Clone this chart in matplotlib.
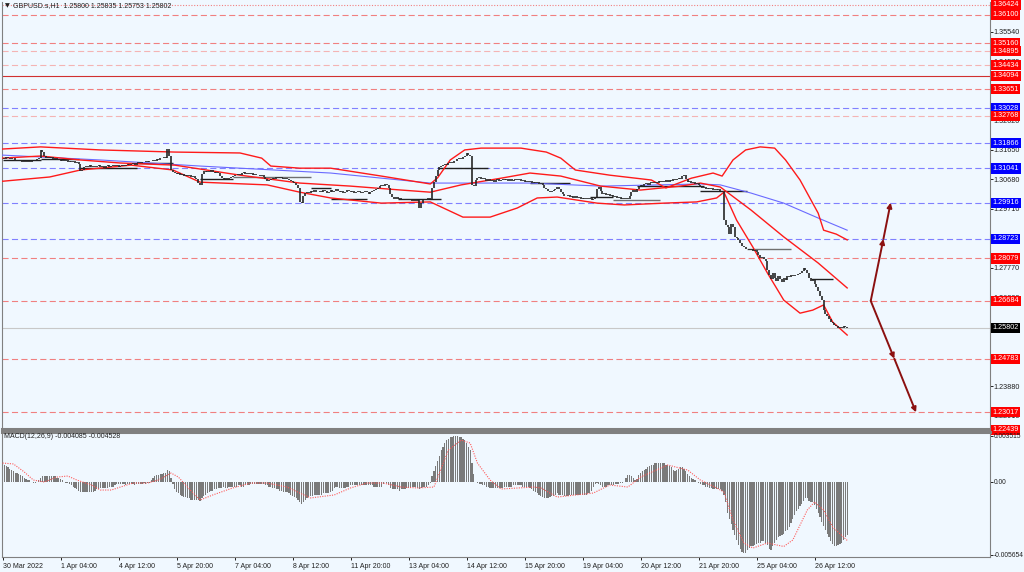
import numpy as np
import matplotlib.pyplot as plt

plt.rcParams['font.family'] = ['Liberation Sans', 'DejaVu Sans']

BG = '#f0f8ff'
W, H = 1024, 572

# --- hourly closes, GBPUSD H1 ---
close = [
    1.3140, 1.3136, 1.3142, 1.3138, 1.3135, 1.3140, 1.3137, 1.3130, 1.3133, 1.3128, 1.3131, 1.3126, 1.3129, 1.3124, 1.3128, 1.3125,
    1.3130, 1.3127, 1.3132, 1.3135, 1.3140, 1.3165, 1.3158, 1.3145, 1.3140, 1.3143, 1.3137, 1.3141, 1.3135, 1.3138, 1.3132, 1.3136,
    1.3130, 1.3133, 1.3127, 1.3131, 1.3125, 1.3129, 1.3124, 1.3128, 1.3122, 1.3126, 1.3120, 1.3095, 1.3098, 1.3108, 1.3112, 1.3109,
    1.3114, 1.3110, 1.3113, 1.3108, 1.3112, 1.3115, 1.3110, 1.3113, 1.3107, 1.3111, 1.3114, 1.3109, 1.3113, 1.3116, 1.3111, 1.3114,
    1.3110, 1.3113, 1.3117, 1.3112, 1.3115, 1.3119, 1.3114, 1.3118, 1.3121, 1.3117, 1.3122, 1.3125, 1.3121, 1.3126, 1.3124, 1.3128,
    1.3125, 1.3130, 1.3127, 1.3133, 1.3130, 1.3136, 1.3133, 1.3140, 1.3137, 1.3143, 1.3140, 1.3168, 1.3145, 1.3100, 1.3094, 1.3090,
    1.3086, 1.3090, 1.3084, 1.3087, 1.3080, 1.3083, 1.3078, 1.3081, 1.3075, 1.3078, 1.3072, 1.3070, 1.3055, 1.3050, 1.3085, 1.3095,
    1.3092, 1.3097, 1.3093, 1.3098, 1.3094, 1.3090, 1.3093, 1.3088, 1.3078, 1.3074, 1.3070, 1.3073, 1.3068, 1.3072, 1.3075, 1.3080,
    1.3084, 1.3081, 1.3086, 1.3083, 1.3088, 1.3091, 1.3087, 1.3090, 1.3085, 1.3088, 1.3083, 1.3086, 1.3081, 1.3084, 1.3079, 1.3082,
    1.3076, 1.3068, 1.3064, 1.3067, 1.3070, 1.3074, 1.3071, 1.3075, 1.3072, 1.3076, 1.3073, 1.3070, 1.3074, 1.3071, 1.3066, 1.3062,
    1.3058, 1.3055, 1.3050, 1.3040, 1.2995, 1.2990, 1.3015, 1.3022, 1.3028, 1.3024, 1.3030, 1.3026, 1.3032, 1.3028, 1.3025, 1.3030,
    1.3027, 1.3033, 1.3029, 1.3024, 1.3028, 1.3032, 1.3027, 1.3031, 1.3035, 1.3030, 1.3026, 1.3030, 1.3024, 1.3028, 1.3033, 1.3029,
    1.3025, 1.3029, 1.3023, 1.3027, 1.3031, 1.3026, 1.3022, 1.3026, 1.3030, 1.3025, 1.3021, 1.3025, 1.3029, 1.3033, 1.3036, 1.3040,
    1.3045, 1.3050, 1.3046, 1.3052, 1.3048, 1.3040, 1.3020, 1.3010, 1.3005, 1.3009, 1.3003, 1.3007, 1.3001, 1.3005, 1.2999, 1.3004,
    1.3000, 1.3004, 1.2998, 1.3002, 1.2997, 1.3001, 1.2975, 1.2990, 1.3000, 1.3004, 1.2999, 1.3006, 1.3002, 1.3040, 1.3060, 1.3080,
    1.3100, 1.3108, 1.3112, 1.3116, 1.3120, 1.3117, 1.3123, 1.3126, 1.3122, 1.3130, 1.3127, 1.3135, 1.3140, 1.3136, 1.3143, 1.3146,
    1.3155, 1.3148, 1.3144, 1.3050, 1.3045, 1.3065, 1.3072, 1.3076, 1.3070, 1.3074, 1.3068, 1.3064, 1.3068, 1.3062, 1.3066, 1.3061,
    1.3065, 1.3068, 1.3063, 1.3067, 1.3070, 1.3065, 1.3069, 1.3064, 1.3068, 1.3062, 1.3066, 1.3070, 1.3065, 1.3069, 1.3063, 1.3066,
    1.3061, 1.3064, 1.3059, 1.3062, 1.3057, 1.3060, 1.3055, 1.3058, 1.3052, 1.3055, 1.3048, 1.3040, 1.3035, 1.3030, 1.3026, 1.3030,
    1.3034, 1.3038, 1.3043, 1.3036, 1.3028, 1.3020, 1.3015, 1.3012, 1.3016, 1.3010, 1.3013, 1.3008, 1.3012, 1.3006, 1.3010, 1.3004,
    1.3008, 1.3003, 1.3007, 1.3002, 1.3006, 1.3001, 1.3005, 1.3010, 1.3035, 1.3042, 1.3030, 1.3020, 1.3024, 1.3016, 1.3020, 1.3013,
    1.3017, 1.3010, 1.3014, 1.3006, 1.3010, 1.3004, 1.3008, 1.3003, 1.3007, 1.3002, 1.3012, 1.3025, 1.3032, 1.3028, 1.3035, 1.3045,
    1.3050, 1.3046, 1.3052, 1.3055, 1.3051, 1.3056, 1.3059, 1.3055, 1.3060, 1.3057, 1.3062, 1.3058, 1.3063, 1.3060, 1.3065, 1.3061,
    1.3066, 1.3063, 1.3068, 1.3065, 1.3070, 1.3074, 1.3068, 1.3078, 1.3082, 1.3070, 1.3058, 1.3062, 1.3056, 1.3060, 1.3054, 1.3057,
    1.3050, 1.3045, 1.3040, 1.3043, 1.3038, 1.3041, 1.3036, 1.3039, 1.3034, 1.3037, 1.3032, 1.3035, 1.3030, 1.3025,
    1.2934, 1.2918, 1.2910, 1.2890, 1.2920, 1.2910, 1.2880, 1.2875, 1.2868, 1.2860, 1.2850, 1.2845, 1.2840, 1.2838, 1.2835, 1.2838,
    1.2832, 1.2835, 1.2830, 1.2818, 1.2810, 1.2812, 1.2805, 1.2800, 1.2770, 1.2755, 1.2740, 1.2760, 1.2745, 1.2735, 1.2750, 1.2740,
    1.2732, 1.2745, 1.2738, 1.2750, 1.2748, 1.2752, 1.2750, 1.2755, 1.2752, 1.2758, 1.2760, 1.2768, 1.2775, 1.2770, 1.2760, 1.2745,
    1.2735, 1.2738, 1.2725, 1.2715, 1.2700, 1.2685, 1.2670, 1.2640, 1.2625, 1.2618, 1.2610, 1.2600, 1.2595, 1.2588, 1.2585, 1.2578,
    1.2582, 1.2580, 1.2585, 1.2583, 1.2580,
]

# MACD(12,26,9) main values, one per bar
macd_hist = [
    0.0014, 0.0013, 0.0012, 0.0011, 0.0010, 0.0009, 0.0008, 0.0007, 0.0007, 0.0006, 0.0005, 0.0004, 0.0003, 0.0002, 0.0001, 0.0001,
    0.0000, -0.0001, -0.0001, 0.0000, 0.0001, 0.0003, 0.0004, 0.0004, 0.0004, 0.0004, 0.0004, 0.0004, 0.0004, 0.0004, 0.0003, 0.0003,
    0.0002, 0.0001, 0.0000, -0.0001, -0.0001, -0.0002, -0.0003, -0.0004, -0.0005, -0.0006, -0.0007, -0.0008, -0.0008, -0.0008, -0.0008, -0.0008,
    -0.0008, -0.0008, -0.0008, -0.0007, -0.0006, -0.0006, -0.0005, -0.0005, -0.0005, -0.0005, -0.0005, -0.0004, -0.0004, -0.0004, -0.0003, -0.0002,
    -0.0002, -0.0002, -0.0002, -0.0002, -0.0003, -0.0002, -0.0002, -0.0002, -0.0002, -0.0003, -0.0002, -0.0002, -0.0002, -0.0002, -0.0001, -0.0002,
    -0.0001, -0.0001, 0.0001, 0.0003, 0.0004, 0.0005, 0.0005, 0.0006, 0.0006, 0.0007, 0.0007, 0.0009, 0.0008, 0.0003, -0.0002, -0.0006,
    -0.0008, -0.0009, -0.0010, -0.0011, -0.0012, -0.0012, -0.0013, -0.0013, -0.0014, -0.0014, -0.0014, -0.0014, -0.0014, -0.0015, -0.0013, -0.0011,
    -0.0010, -0.0009, -0.0008, -0.0007, -0.0007, -0.0006, -0.0006, -0.0005, -0.0005, -0.0005, -0.0004, -0.0005, -0.0005, -0.0004, -0.0004, -0.0004,
    -0.0004, -0.0004, -0.0003, -0.0003, -0.0004, -0.0004, -0.0003, -0.0003, -0.0003, -0.0002, -0.0002, -0.0002, -0.0002, -0.0002, -0.0002, -0.0002,
    -0.0002, -0.0003, -0.0003, -0.0004, -0.0004, -0.0005, -0.0005, -0.0006, -0.0006, -0.0007, -0.0007, -0.0008, -0.0008, -0.0008, -0.0009, -0.0010,
    -0.0011, -0.0012, -0.0013, -0.0014, -0.0016, -0.0017, -0.0016, -0.0014, -0.0013, -0.0012, -0.0011, -0.0011, -0.0010, -0.0010, -0.0010, -0.0010,
    -0.0010, -0.0009, -0.0009, -0.0009, -0.0009, -0.0008, -0.0007, -0.0005, -0.0004, -0.0004, -0.0005, -0.0005, -0.0005, -0.0005, -0.0004, -0.0004,
    -0.0003, -0.0003, -0.0003, -0.0003, -0.0003, -0.0003, -0.0003, -0.0003, -0.0003, -0.0003, -0.0003, -0.0003, -0.0003, -0.0004, -0.0004, -0.0004,
    -0.0004, -0.0004, -0.0002, 0.0000, -0.0001, -0.0003, -0.0005, -0.0006, -0.0006, -0.0006, -0.0006, -0.0007, -0.0006, -0.0006, -0.0006, -0.0005,
    -0.0005, -0.0005, -0.0004, -0.0004, -0.0004, -0.0005, -0.0006, -0.0005, -0.0004, -0.0004, -0.0004, -0.0003, -0.0001, 0.0004, 0.0008, 0.0012,
    0.0016, 0.0020, 0.0024, 0.0027, 0.0030, 0.0032, 0.0033, 0.0034, 0.0034, 0.0035, 0.0035, 0.0035, 0.0034, 0.0034, 0.0033, 0.0032,
    0.0030, 0.0027, 0.0024, 0.0014, 0.0006, 0.0000, -0.0001, -0.0002, -0.0002, -0.0003, -0.0003, -0.0004, -0.0004, -0.0005, -0.0005, -0.0005,
    -0.0005, -0.0005, -0.0005, -0.0005, -0.0005, -0.0004, -0.0004, -0.0004, -0.0004, -0.0004, -0.0003, -0.0003, -0.0003, -0.0003, -0.0003, -0.0004,
    -0.0004, -0.0004, -0.0004, -0.0005, -0.0006, -0.0007, -0.0008, -0.0009, -0.0010, -0.0011, -0.0012, -0.0013, -0.0013, -0.0013, -0.0012, -0.0011,
    -0.0011, -0.0010, -0.0009, -0.0010, -0.0010, -0.0010, -0.0011, -0.0011, -0.0011, -0.0010, -0.0010, -0.0010, -0.0010, -0.0010, -0.0010, -0.0010,
    -0.0010, -0.0010, -0.0010, -0.0009, -0.0009, -0.0007, -0.0004, -0.0002, -0.0001, -0.0002, -0.0003, -0.0004, -0.0004, -0.0004, -0.0003, -0.0003,
    -0.0003, -0.0003, -0.0002, -0.0002, -0.0002, -0.0001, -0.0001, 0.0000, 0.0003, 0.0005, 0.0005, 0.0004, 0.0003, 0.0001, 0.0002, 0.0005,
    0.0007, 0.0008, 0.0009, 0.0010, 0.0011, 0.0012, 0.0013, 0.0013, 0.0014, 0.0014, 0.0014, 0.0014, 0.0014, 0.0014, 0.0013, 0.0013,
    0.0012, 0.0011, 0.0009, 0.0008, 0.0009, 0.0010, 0.0011, 0.0011, 0.0010, 0.0008, 0.0006, 0.0004, 0.0003, 0.0002, 0.0001, 0.0000,
    -0.0001, -0.0002, -0.0003, -0.0003, -0.0004, -0.0004, -0.0005, -0.0005, -0.0006, -0.0006, -0.0006, -0.0006, -0.0006, -0.0007, -0.0010, -0.0016,
    -0.0024, -0.0029, -0.0033, -0.0037, -0.0041, -0.0045, -0.0049, -0.0052, -0.0054, -0.0055, -0.0055, -0.0053, -0.0051, -0.0050, -0.0050, -0.0049,
    -0.0048, -0.0047, -0.0047, -0.0046, -0.0046, -0.0047, -0.0049, -0.0052, -0.0053, -0.0050, -0.0047, -0.0045, -0.0043, -0.0042, -0.0041, -0.0040,
    -0.0038, -0.0037, -0.0035, -0.0032, -0.0029, -0.0026, -0.0023, -0.0021, -0.0019, -0.0017, -0.0015, -0.0013, -0.0013, -0.0015, -0.0016, -0.0016,
    -0.0018, -0.0021, -0.0024, -0.0027, -0.0031, -0.0034, -0.0037, -0.0040, -0.0043, -0.0046, -0.0048, -0.0050, -0.0050, -0.0049, -0.0048, -0.0047,
    -0.0045, -0.0043, -0.0041,
]

# MACD signal line, read at turning points
signal_idx = [0, 6, 12, 17, 23, 30, 36, 41, 49, 54, 60, 65, 72, 80, 86, 93, 97, 102, 109, 116, 127, 137, 146, 157,
              164, 170, 183, 192, 201, 210, 220, 229, 238, 246, 253, 258, 262, 269, 275, 293, 297, 306, 326, 335,
              345, 352, 367, 378, 385, 394, 398, 403, 409, 414, 422, 431, 436, 444, 448, 453, 458, 466]
signal_val = [0.00143, 0.00136, 0.00074, 0.00012, -0.00003, 0.00035, 0.00043, 0.00012, -0.00026, -0.00065, -0.00065,
              -0.00042, -0.00011, -0.00011, 0.00012, 0.00066, 0.00035, -0.00042, -0.00142, -0.00103, -0.00049, -0.00011,
              -0.00011, -0.00042, -0.00088, -0.00126, -0.00103, -0.00049, -0.00011, -0.00011, -0.00042, -0.00049, -0.00042,
              0.00243, 0.00320, 0.00297, 0.00143, 0.00012, -0.00057, -0.00042, -0.00049, -0.00119, -0.00088, -0.00026,
              -0.00042, 0.00035, 0.00128, 0.00089, 0.00012, -0.00049, -0.00080, -0.00296, -0.00473, -0.00512, -0.00473,
              -0.00500, -0.00450, -0.00219, -0.00157, -0.00219, -0.00350, -0.00453]

# red envelope / bands and blue moving average
upper_idx = [0, 21, 54, 95, 131, 143, 148, 164, 181, 209, 236, 240, 247, 255, 264, 286, 300, 308, 316, 335, 358, 366,
             380, 392, 397, 403, 410, 418, 426, 432, 440, 450, 453, 460, 466]
upper_val = [1.3168, 1.3175, 1.3165, 1.3158, 1.3155, 1.3138, 1.3112, 1.3105, 1.3105, 1.3079, 1.3053, 1.3073, 1.3132,
             1.3165, 1.3171, 1.3171, 1.3158, 1.3138, 1.3099, 1.3082, 1.3066, 1.3040, 1.3072, 1.3089, 1.3079, 1.3132,
             1.3165, 1.3175, 1.3171, 1.3132, 1.3066, 1.2957, 1.2901, 1.2888, 1.2869]
middle_idx = [0, 21, 43, 65, 95, 131, 164, 192, 220, 236, 253, 275, 291, 308, 330, 352, 374, 385, 396, 413, 431, 450, 466]
middle_val = [1.3138, 1.3145, 1.3132, 1.3122, 1.3115, 1.3082, 1.3056, 1.3046, 1.3033, 1.3026, 1.3050, 1.3072, 1.3089,
              1.3079, 1.3046, 1.3033, 1.3046, 1.3056, 1.3043, 1.2967, 1.2879, 1.2793, 1.2711]
lower_idx = [0, 26, 43, 71, 94, 109, 146, 164, 181, 209, 236, 254, 269, 284, 295, 306, 328, 343, 365, 383, 394, 398,
             405, 414, 422, 431, 440, 447, 453, 458, 466]
lower_val = [1.3062, 1.3076, 1.3099, 1.3115, 1.3099, 1.3059, 1.3050, 1.3026, 1.3007, 1.2990, 1.2994, 1.2944, 1.2944,
             1.2974, 1.3007, 1.3010, 1.2990, 1.2984, 1.2990, 1.2994, 1.3007, 1.3026, 1.2934, 1.2845, 1.2760, 1.2671,
             1.2628, 1.2638, 1.2655, 1.2599, 1.2556]
ma_idx = [0, 54, 109, 181, 236, 291, 330, 385, 396, 413, 431, 450, 466]
ma_val = [1.3148, 1.3132, 1.3112, 1.3089, 1.3056, 1.3056, 1.3046, 1.3053, 1.3050, 1.3023, 1.2990, 1.2941, 1.2901]

# short horizontal segments (start bar, end bar, price, shade)
seg_start = [0, 21, 43, 74, 109, 127, 170, 181, 218, 240, 291, 324, 337, 350, 385, 411, 446]
seg_end = [21, 42, 74, 94, 127, 170, 181, 201, 242, 268, 313, 337, 363, 387, 411, 435, 458]
seg_level = [1.3132, 1.3135, 1.3105, 1.3122, 1.3069, 1.3076, 1.3040, 1.3003, 1.3003, 1.3105, 1.3056, 1.3010, 1.3000,
             1.3046, 1.3030, 1.2839, 1.2740]
seg_shade = ['k', 'k', 'k', 'k', 'k', 'g', 'k', 'k', 'k', 'k', 'k', 'k', 'g', 'k', 'k', 'g', 'k']

# horizontal levels with their price tags
level_val = [1.36424, 1.36100, 1.35160, 1.34895, 1.34434, 1.34094, 1.33651, 1.33028, 1.32768, 1.31866, 1.31041,
             1.29916, 1.28723, 1.28079, 1.26684, 1.25802, 1.24783, 1.23017, 1.22439]
level_kind = ['dot', 'red', 'red', 'pale', 'pale', 'solid', 'red', 'blue', 'pale', 'blue', 'blue',
              'blue', 'blue', 'red', 'red', 'price', 'red', 'red', 'red']

# projection arrows
up_idx = [479, 486, 490]
up_val = [1.26684, 1.28723, 1.29916]
down_idx = [479, 492, 504]
down_val = [1.26684, 1.24783, 1.23017]

price_ticks = [1.36510, 1.35540, 1.34570, 1.33600, 1.32620, 1.31650, 1.30680, 1.29710, 1.28740, 1.27770, 1.26800,
               1.25830, 1.24850, 1.23880, 1.22910]
macd_ticks = [0.003515, 0.0, -0.005654]
macd_tick_labels = ['0.003515', '0.00', '-0.005654']
date_idx = [0, 32, 64, 96, 128, 160, 192, 224, 256, 288, 320, 352, 384, 416, 448]
date_labels = ['30 Mar 2022', '1 Apr 04:00', '4 Apr 12:00', '5 Apr 20:00', '7 Apr 04:00', '8 Apr 12:00',
               '11 Apr 20:00', '13 Apr 04:00', '14 Apr 12:00', '15 Apr 20:00', '19 Apr 04:00', '20 Apr 12:00',
               '21 Apr 20:00', '25 Apr 04:00', '26 Apr 12:00']

title = 'GBPUSD.s,H1  1.25800 1.25835 1.25753 1.25802'
macd_title = 'MACD(12,26,9) -0.004085 -0.004528'

FS = 5.2      # scale numbers
FS_TXT = 5.0  # captions and dates


def px_box(x0, y0, x1, y1):
    return [x0 / W, 1 - y1 / H, (x1 - x0) / W, (y1 - y0) / H]


fig = plt.figure(figsize=(W / 100, H / 100), dpi=100, facecolor=BG)
ax = fig.add_axes(px_box(2, 2, 990, 429))
axm = fig.add_axes(px_box(2, 432, 990, 557), sharex=ax)

for a in (ax, axm):
    a.set_facecolor(BG)
    for s in a.spines.values():
        s.set_color('#808080')
        s.set_linewidth(0.8)
    a.yaxis.tick_right()
    a.tick_params(axis='y', direction='out', length=2.2, width=0.7, colors='#202020', labelsize=FS, pad=0.6)
ax.spines['top'].set_visible(False)
ax.spines['bottom'].set_linewidth(2.2)
axm.spines['top'].set_linewidth(2.2)
axm.tick_params(axis='y', labelsize=4.8)

# price bars
c = np.array(close)
x = np.arange(len(c))
prev = np.concatenate([c[:1], c[:-1]])
ax.vlines(x, np.minimum(prev, c), np.maximum(prev, c), color='#262626', lw=1.2, zorder=4)

# horizontal segments
for s0, s1, lv, sh in zip(seg_start, seg_end, seg_level, seg_shade):
    ax.hlines(lv, s0, s1, color='#202020' if sh == 'k' else '#707070', lw=1.0, zorder=3)

# bands and MA
ax.plot(ma_idx, ma_val, color='#6a6aff', lw=0.8, zorder=3)
for ii, vv in ((upper_idx, upper_val), (middle_idx, middle_val), (lower_idx, lower_val)):
    ax.plot(ii, vv, color='#ff1a1a', lw=1.0, zorder=3)

# levels
styles = {
    'red': dict(color='#f08080', ls=(0, (5.5, 3))),
    'pale': dict(color='#f4b4b4', ls=(0, (5.5, 3))),
    'solid': dict(color='#d03030', ls='-'),
    'dot': dict(color='#f08080', ls=(0, (1, 1.5))),
    'blue': dict(color='#8080ff', ls=(0, (5.5, 3))),
    'price': dict(color='#c8c8c8', ls='-'),
}
tag_colors = {'red': '#ff0000', 'pale': '#ff0000', 'solid': '#ff0000', 'dot': '#ff0000',
              'blue': '#0000ff', 'price': '#000000'}
ytr = ax.get_yaxis_transform()
for v, k in zip(level_val, level_kind):
    ax.axhline(v, lw=0.8, zorder=2, **styles[k])
    ax.text(1.0025, v, f'{v:.5f}', transform=ytr, ha='left', va='center', fontsize=FS, color='white',
            bbox=dict(boxstyle='square,pad=0.22', fc=tag_colors[k], ec='none'), clip_on=False, zorder=10)

# projection arrows
for ii, vv in ((up_idx, up_val), (down_idx, down_val)):
    for k in range(len(ii) - 1):
        ax.annotate('', xy=(ii[k + 1], vv[k + 1]), xytext=(ii[k], vv[k]),
                    arrowprops=dict(arrowstyle='-|>', color='#8b1010', lw=1.4, mutation_scale=7,
                                    shrinkA=0, shrinkB=0), zorder=5)

ax.set_xlim(-0.3, 544.8)
ax.set_ylim(1.22469, 1.36517)
ax.set_yticks(price_ticks)
ax.set_yticklabels([f'{v:.5f}' for v in price_ticks])
ax.tick_params(axis='x', which='both', length=0, labelbottom=False)

# MACD panel
axm.bar(x, macd_hist, width=0.7, color='#7a7a7a', lw=0, zorder=2)
axm.plot(signal_idx, signal_val, color='#ff5a5a', lw=0.8, ls=(0, (1, 1.2)), zorder=3)
axm.set_ylim(-0.00581, 0.003822)
axm.set_yticks(macd_ticks)
axm.set_yticklabels(macd_tick_labels)
axm.set_xticks(date_idx)
axm.set_xticklabels(date_labels)
axm.tick_params(axis='x', direction='out', length=2.5, width=0.7, colors='#202020', labelsize=FS_TXT, pad=1.5)
for t in axm.get_xticklabels():
    t.set_ha('left')

fig.text(5 / W, 1 - 6 / H, '▼', fontsize=4.5, va='center', ha='left', color='#202020',
         family=['DejaVu Sans'])
fig.text(13 / W, 1 - 6 / H, title, fontsize=FS_TXT, va='center', ha='left', color='#202020')
fig.text(4 / W, 1 - 437 / H, macd_title, fontsize=FS_TXT, va='center', ha='left', color='#202020')

fig.savefig('out.png', dpi=100, facecolor=BG)
